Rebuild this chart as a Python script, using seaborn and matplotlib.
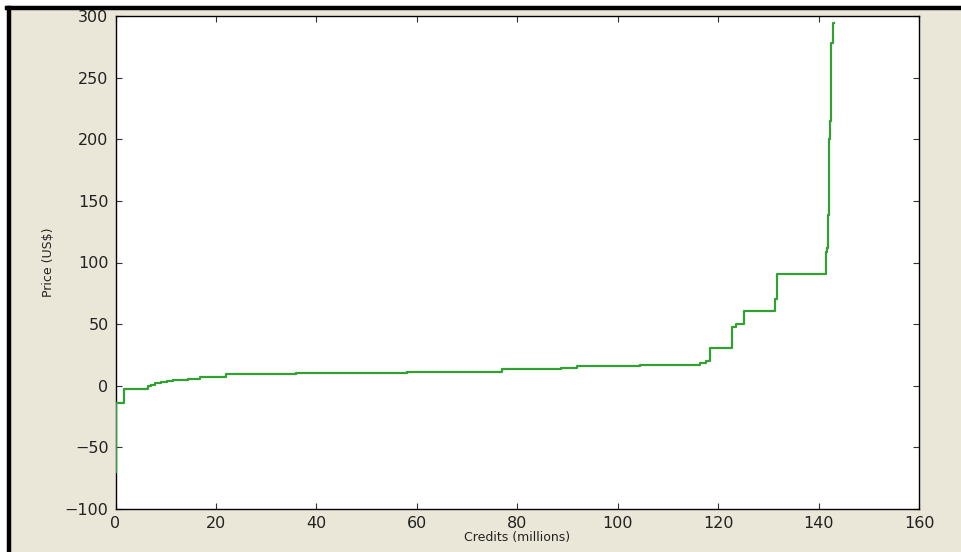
import matplotlib
matplotlib.use("Agg")
import matplotlib.pyplot as plt
from matplotlib.lines import Line2D
from matplotlib.patches import Rectangle
import seaborn as sns
import pandas as pd

# cumulative credits (millions) where each price level starts
credits = [0.0, 0.05, 1.7, 3.0, 4.5, 6.4, 7.0, 7.9, 9.0, 10.2, 11.5, 13.0,
           14.5, 16.8, 22.1, 24.0, 28.0, 32.0, 36.0, 40.0, 46.0, 52.0, 58.0,
           64.0, 70.0, 75.0, 76.9, 82.0, 88.8, 91.8, 98.0, 104.4, 110.0,
           116.3, 117.6, 118.4, 122.7, 123.6, 125.1, 131.4, 131.8, 141.5,
           141.7, 141.8, 142.0, 142.2, 142.5, 142.9, 143.0]
# price (US$) of each step
price = [-70.0, -14.2, -2.9, -2.6, -2.3, -0.4, 0.8, 2.0, 3.0, 3.9, 4.4, 5.0,
         5.5, 7.3, 9.3, 9.4, 9.6, 9.8, 10.0, 10.2, 10.4, 10.6, 10.8,
         11.0, 11.2, 11.4, 13.6, 13.7, 14.6, 16.0, 16.3, 16.5, 16.8,
         18.7, 20.3, 30.4, 47.4, 50.1, 60.6, 70.1, 90.4, 108.8,
         112.0, 138.5, 200.0, 215.0, 278.0, 294.6, 294.6]

x_ticks = [0, 20, 40, 60, 80, 100, 120, 140, 160]
y_ticks = [-100, -50, 0, 50, 100, 150, 200, 250, 300]

df = pd.DataFrame({"credits": credits, "price": price})

W, H = 961, 552
fig = plt.figure(figsize=(W / 100, H / 100), dpi=100, facecolor="white")

# beige panel + black frame (screenshot look)
fig.patches.append(Rectangle((11 / W, 0), 1 - 11 / W, 1 - 9 / H,
                             transform=fig.transFigure, facecolor="#ebe7d8",
                             edgecolor="none", zorder=-10))
fig.lines.append(Line2D([9 / W, 9 / W], [0, 1 - 7.5 / H], transform=fig.transFigure,
                        color="black", linewidth=3.2))
fig.lines.append(Line2D([7.4 / W, 1], [1 - 7.5 / H, 1 - 7.5 / H], transform=fig.transFigure,
                        color="black", linewidth=3.2))

left, right = 115.5 / W, 919 / W
bottom, top = 1 - 509 / H, 1 - 16 / H
ax = fig.add_axes([left, bottom, right - left, top - bottom])
ax.set_facecolor("white")

sns.lineplot(data=df, x="credits", y="price", ax=ax, estimator=None, sort=False,
             drawstyle="steps-post", color="#33a033", linewidth=1.6, zorder=3)

ax.set_xlim(0, 160)
ax.set_ylim(-100, 300)
ax.set_xticks(x_ticks)
ax.set_yticks(y_ticks)
ax.set_xticklabels([str(v) for v in x_ticks])
ax.set_yticklabels([str(v).replace("-", "\u2212") for v in y_ticks])
ax.tick_params(direction="in", length=4, width=0.8, top=True, right=True,
               labelsize=11.5, colors="#333333", pad=5)
ax.tick_params(axis="both", labelcolor="#222222")
for s in ax.spines.values():
    s.set_color("black")
    s.set_linewidth(1.0)

ax.set_xlabel("Credits (millions)", fontsize=9, color="#222222", labelpad=0)
ax.set_ylabel("Price (US$)", fontsize=9, color="#222222", labelpad=7)
ax.grid(False)

fig.savefig("out.png", dpi=100, facecolor=fig.get_facecolor())
